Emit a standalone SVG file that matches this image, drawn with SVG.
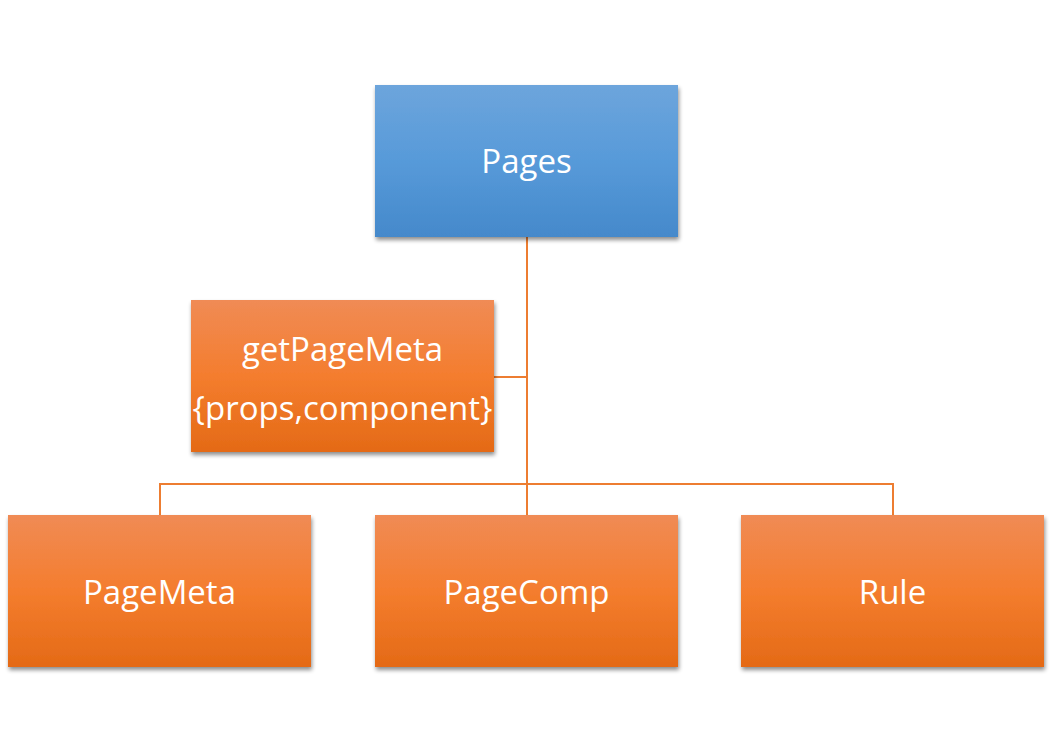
<svg xmlns="http://www.w3.org/2000/svg" width="1053" height="753" viewBox="0 0 1053 753">
<style>
.box{filter:url(#sh);}
.or{fill:url(#gOr);}
.bl{fill:url(#gBl);}
.lbl{font-family:"Open Sans","Noto Sans",sans-serif;font-size:33px;fill:#ffffff;text-anchor:middle;}
.con{stroke:#ED7D31;stroke-width:2;fill:none;}
</style>
<defs>
<linearGradient id="gOr" x1="0" y1="0" x2="0" y2="1">
<stop offset="0" stop-color="#F08B55"/>
<stop offset="0.5" stop-color="#F47D2E"/>
<stop offset="1" stop-color="#E46A16"/>
</linearGradient>
<linearGradient id="gBl" x1="0" y1="0" x2="0" y2="1">
<stop offset="0" stop-color="#6DA5DC"/>
<stop offset="0.5" stop-color="#579AD9"/>
<stop offset="1" stop-color="#4589CB"/>
</linearGradient>
<filter id="sh" x="-10%" y="-10%" width="120%" height="130%">
<feGaussianBlur in="SourceAlpha" stdDeviation="2"/>
<feOffset dx="1" dy="3" result="b"/>
<feComponentTransfer><feFuncA type="linear" slope="0.45"/></feComponentTransfer>
<feMerge><feMergeNode/><feMergeNode in="SourceGraphic"/></feMerge>
</filter>
</defs>
<rect width="1053" height="753" fill="#ffffff"/>
<g id="connectors">
<path class="con" d="M527 237 V515"/>
<path class="con" d="M494 377 H527"/>
<path class="con" d="M160 515 V484 H893 V515"/>
</g>
<g id="pages">
<rect class="box bl" x="375" y="85" width="303" height="152"/>
<text class="lbl" x="526.5" y="173">Pages</text>
</g>
<g id="getPageMeta">
<rect class="box or" x="191" y="300" width="303" height="152"/>
<text class="lbl" x="342.5" y="361">getPageMeta</text>
<text class="lbl" x="342.5" y="420">{props,component}</text>
</g>
<g id="pageMeta">
<rect class="box or" x="8" y="515" width="303" height="152"/>
<text class="lbl" x="159.5" y="604">PageMeta</text>
</g>
<g id="pageComp">
<rect class="box or" x="375" y="515" width="303" height="152"/>
<text class="lbl" x="526.5" y="604">PageComp</text>
</g>
<g id="rule">
<rect class="box or" x="741" y="515" width="303" height="152"/>
<text class="lbl" x="892.5" y="604">Rule</text>
</g>
</svg>
